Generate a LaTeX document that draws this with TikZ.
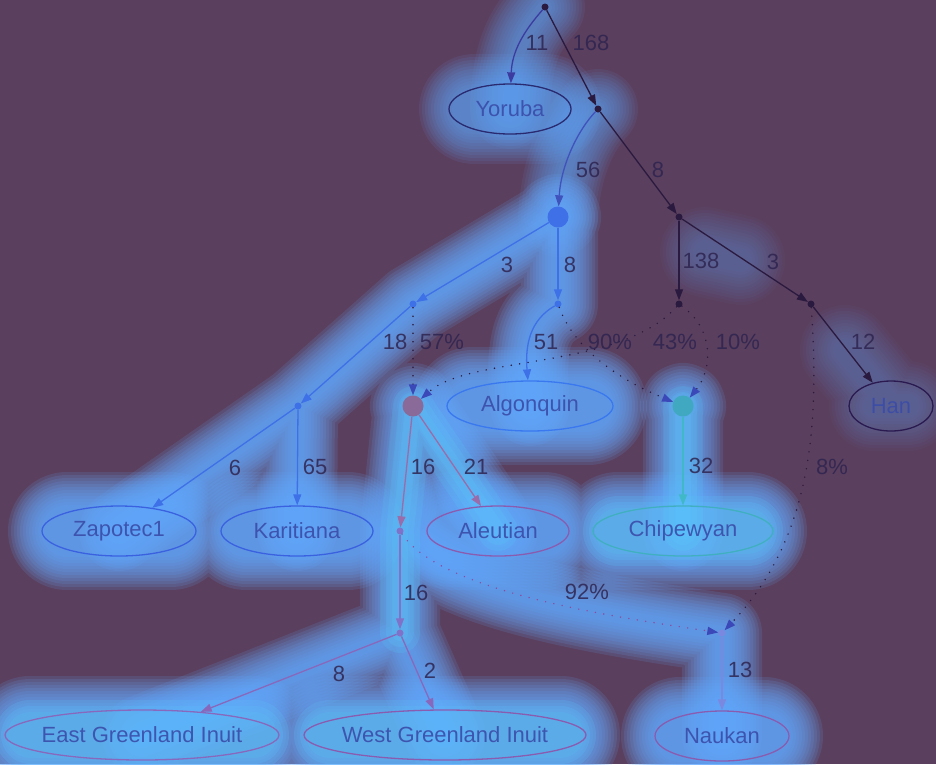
\documentclass[tikz,border=0pt]{standalone}
\usepackage{fontspec}
\setmainfont{Liberation Sans}
\usetikzlibrary{arrows.meta,shapes.geometric}
\definecolor{bgc}{HTML}{5A3F5E}
\definecolor{dark}{HTML}{2B1A3F}
\definecolor{blu}{HTML}{3E70E8}
\definecolor{glowb}{HTML}{66AAFF}
\definecolor{glowc}{HTML}{58D0F8}
\definecolor{cpink}{HTML}{9A6CAA}
\definecolor{lav}{HTML}{8072C8}
\definecolor{cpur}{HTML}{8868BC}
\definecolor{cteal}{HTML}{40B8C8}
\definecolor{clavb}{HTML}{7A88E0}
\definecolor{cmag}{HTML}{8E4AA0}
\definecolor{cyedge}{HTML}{3C3CA0}
\definecolor{c56}{HTML}{4052BC}
\definecolor{lblc}{HTML}{2E2450}
\definecolor{ntext}{HTML}{3A4CA8}
\definecolor{cyor}{HTML}{2A2A70}
\definecolor{chan}{HTML}{2A1A50}
\definecolor{cblue}{HTML}{3A62E0}
\definecolor{calg}{HTML}{3A78F0}
\definecolor{cale}{HTML}{8A5CB0}
\definecolor{cchip}{HTML}{40B0C0}
\definecolor{cn2}{HTML}{4070E8}
\definecolor{cm1}{HTML}{8A6A98}
\definecolor{cm2}{HTML}{40A8C0}
\definecolor{ctip}{HTML}{3A48B8}
\pgfdeclarelayer{bglayer}
\pgfdeclarelayer{glowlayer}
\pgfsetlayers{bglayer,glowlayer,main}
\tikzset{
  pop/.style={ellipse, draw, line width=1.3pt, inner sep=0pt, text=ntext, text opacity=.9,
    font=\fontsize{22}{26}\selectfont},
  dotn/.style={circle, fill=dark, inner sep=0pt, minimum size=7pt},
  bigc/.style={circle, inner sep=0pt, minimum size=21pt},
  conn/.style={line width=1.3pt, -{Triangle[length=11pt,width=8pt]}},
  adm/.style={draw=dark, line width=1.6pt, dash pattern=on 0pt off 8.5pt, line cap=round,
    -{Triangle[length=11pt,width=8pt,color=ctip]}},
  elab/.style={font=\fontsize{22}{26}\selectfont, text=lblc, text opacity=.85, inner sep=0pt},
  glw/.style={line cap=round, line join=round}
}
\newcommand\gstrong{(n2.center) -- (a1.center) -- (a3.center) -- (zap.center)
  (a3.center) -- (kar.center)
  (n2.center) -- (a2.center) .. controls (530,320) and (525,345) .. (alg.center)
  (m1.center) -- (b1.center) -- (b2.center) -- (egi.center)
  (b2.center) -- (wgi.center)
  (m1.center) -- (ale.center)
  (m2.center) -- (chip.center)
  (m3.center) -- (nau.center)
  (b1.center) .. controls (440,590) and (600,615) .. (m3.center)
  (m1.center) circle[radius=3] (m2.center) circle[radius=3] (n2.center) circle[radius=3]}
\newcommand\gstrongE{(zap.center) ++(-52,0) -- ++(104,0)
  (kar.center) ++(-51,0) -- ++(102,0)
  (alg.center) ++(-58,0) -- ++(116,0)
  (ale.center) ++(-46,0) -- ++(92,0)
  (chip.center) ++(-65,0) -- ++(130,0)
  (egi.center) ++(-112,0) -- ++(224,0)
  (wgi.center) ++(-116,0) -- ++(232,0)
  (nau.center) ++(-42,0) -- ++(84,0)}
\newcommand\gmed{(root.center) .. controls (525,30) and (512,50) .. (yor.center)
  (n1.center) .. controls (578,130) and (561,165) .. (n2.center)}
\newcommand\gmedE{(yor.center) ++(-36,0) -- ++(72,0)}
\newcommand\gweak{(han.center) ++(-17,0) -- ++(34,0)
  (845,350) -- (han.center) (705,252) -- (740,260)}
\newcommand\gcyan{(m1.center) -- (b1.center) -- (b2.center)
  (m1.center) -- (ale.center) (m2.center) -- (chip.center)}
\newcommand\gcyanE{(egi.center) ++(-112,0) -- ++(224,0)
  (wgi.center) ++(-116,0) -- ++(232,0)
  (chip.center) ++(-65,0) -- ++(130,0)}
\begin{document}
\begin{tikzpicture}[x=1pt,y=-1pt]
\useasboundingbox (0,0) rectangle (936,764);
\begin{pgfonlayer}{bglayer}
\fill[bgc] (0,0) rectangle (936,764);
\end{pgfonlayer}
% nodes
\node[dotn] (root) at (545,7) {};
\node[pop, draw=cyor, minimum width=122pt, minimum height=50pt] (yor) at (510,109) {\makebox[0pt]{Yoruba}};
\node[dotn] (n1) at (598,109) {};
\node[bigc, fill=cn2] (n2) at (558,217) {};
\node[dotn] (n3) at (679,217) {};
\node[dotn] (n4) at (679,304) {};
\node[dotn] (n5) at (811,304) {};
\node[pop, draw=chan, minimum width=84pt, minimum height=50pt] (han) at (891,406) {\makebox[0pt]{Han}};
\node[dotn, fill=blu] (a1) at (413,304) {};
\node[dotn, fill=blu] (a2) at (558,304) {};
\node[dotn, fill=blu] (a3) at (298,406) {};
\node[bigc, fill=cm1] (m1) at (413,406) {};
\node[pop, draw=calg, minimum width=166pt, minimum height=50pt] (alg) at (530,406) {\makebox[0pt]{Algonquin}};
\node[bigc, fill=cm2] (m2) at (683,406) {};
\node[pop, draw=cblue, minimum width=154pt, minimum height=50pt] (zap) at (119,531) {\makebox[0pt]{Zapotec1}};
\node[pop, draw=cblue, minimum width=152pt, minimum height=50pt] (kar) at (297,531) {\makebox[0pt]{Karitiana}};
\node[pop, draw=cale, minimum width=142pt, minimum height=50pt] (ale) at (498,531) {\makebox[0pt]{Aleutian}};
\node[pop, draw=cchip, minimum width=180pt, minimum height=50pt] (chip) at (683,531) {\makebox[0pt]{Chipewyan}};
\node[dotn, fill=lav] (b1) at (400,531) {};
\node[dotn, fill=lav] (b2) at (400,633) {};
\node[dotn, fill=clavb] (m3) at (722,633) {};
\node[pop, draw=cpur, minimum width=274pt, minimum height=50pt] (egi) at (142,735) {\makebox[0pt]{East Greenland Inuit}};
\node[pop, draw=cale, minimum width=282pt, minimum height=50pt] (wgi) at (445,735) {\makebox[0pt]{West Greenland Inuit}};
\node[pop, draw=cale, minimum width=134pt, minimum height=50pt] (nau) at (722,736) {\makebox[0pt]{Naukan}};
% glow
\begin{pgfonlayer}{glowlayer}
\foreach \w in {14,20,...,80}{
  \draw[glw, glowb, opacity=.14, line width=\w pt] \gstrong;
  \draw[glw, glowb, opacity=.14, line width={(\w+38)*1pt}] \gstrongE;
  \draw[glw, glowb, opacity=.08, line width=\w pt] \gmed;
  \draw[glw, glowb, opacity=.09, line width={(\w+30)*1pt}] \gmedE;
  \draw[glw, glowb, opacity=.035, line width={(\w+10)*1pt}] \gweak;
}
\foreach \w in {16,28,40}{
  \draw[glw, glowc, opacity=.17, line width=\w pt] \gcyan;
  \draw[glw, glowc, opacity=.14, line width={(\w+30)*1pt}] \gcyanE;
}
\end{pgfonlayer}
% solid edges
\draw[conn, cyedge] (root) .. controls (525,30) and (512,50) .. (yor);
\draw[conn, dark] (root) -- (n1);
\draw[conn, c56] (n1) .. controls (578,130) and (561,165) .. (n2);
\draw[conn, dark] (n1) -- (n3);
\draw[conn, dark] (n3) -- (n4);
\draw[conn, dark] (n3) -- (n5);
\draw[conn, dark] (n5) -- (han);
\draw[conn, blu] (n2) -- (a1);
\draw[conn, blu] (n2) -- (a2);
\draw[conn, blu] (a1) -- (a3);
\draw[conn, blu] (a3) -- (zap);
\draw[conn, blu] (a3) -- (kar);
\draw[conn, blu] (a2) .. controls (530,320) and (525,345) .. (alg);
\draw[conn, cpink] (m1) -- (b1);
\draw[conn, cpink] (m1) -- (ale);
\draw[conn, cteal] (m2) -- (chip);
\draw[conn, lav] (b1) -- (b2);
\draw[conn, cpur] (b2) -- (egi);
\draw[conn, cpur] (b2) -- (wgi);
\draw[conn, clavb] (m3) -- (nau);
% admixture edges
\draw[adm] (a1) -- (m1);
\draw[adm] (n4) .. controls (620,370) and (470,355) .. (m1);
\draw[adm] (a2) .. controls (575,350) and (620,380) .. (m2);
\draw[adm] (n4) .. controls (715,330) and (712,370) .. (m2);
\draw[adm] (n5) .. controls (820,430) and (810,540) .. (m3);
\draw[adm, draw=cmag] (b1) .. controls (440,590) and (600,615) .. (m3);
% edge labels
\node[elab] (l1) at (537,43) {11};
\node[elab] (l2) at (591,43) {168};
\node[elab] (l3) at (588,170) {56};
\node[elab] (l4) at (658,170) {8};
\node[elab] (l5) at (701,261) {138};
\node[elab] (l6) at (773,262) {3};
\node[elab] (l7) at (863,342) {12};
\node[elab] (l8) at (507,265) {3};
\node[elab] (l9) at (570,265) {8};
\node[elab] (l10) at (395,342) {18};
\node[elab] (l11) at (442,342) {57\%};
\node[elab] (l12) at (546,342) {51};
\node[elab] (l13) at (610,342) {90\%};
\node[elab] (l14) at (675,342) {43\%};
\node[elab] (l15) at (738,342) {10\%};
\node[elab] (l16) at (235,468) {6};
\node[elab] (l17) at (315,467) {65};
\node[elab] (l18) at (423,467) {16};
\node[elab] (l19) at (476,467) {21};
\node[elab] (l20) at (701,466) {32};
\node[elab] (l21) at (832,467) {8\%};
\node[elab] (l22) at (416,593) {16};
\node[elab] (l23) at (339,674) {8};
\node[elab] (l24) at (430,671) {2};
\node[elab] (l25) at (587,592) {92\%};
\node[elab] (l26) at (740,670) {13};
\end{tikzpicture}
\end{document}
